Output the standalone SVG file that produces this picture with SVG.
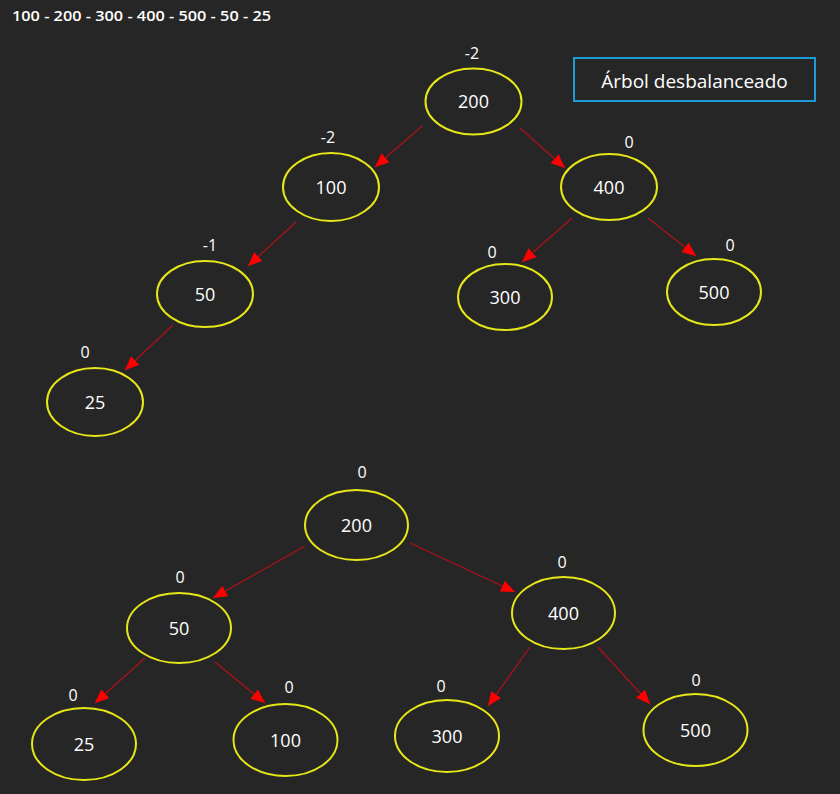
<svg xmlns="http://www.w3.org/2000/svg" width="840" height="794" viewBox="0 0 840 794">
<defs>
<marker id="ah" viewBox="0 0 14 12" refX="14" refY="6" markerWidth="14" markerHeight="12" markerUnits="userSpaceOnUse" orient="auto">
<path d="M0,0 L14,6 L0,12 Z" fill="#ff0000"/>
</marker>
</defs>
<style>
.n{fill:none;stroke:#e6e619;stroke-width:2}
.t{font-family:"Open Sans","Noto Sans",sans-serif;font-size:18px;fill:#ffffff;text-anchor:middle}
.b{font-family:"Open Sans","Noto Sans",sans-serif;font-size:16px;fill:#ffffff;text-anchor:middle}
.e{stroke:#b0101a;stroke-width:1.2;fill:none;marker-end:url(#ah)}
</style>
<rect width="840" height="794" fill="#262626"/>
<text x="12" y="21" font-family="'Open Sans','Noto Sans',sans-serif" font-size="14" font-weight="600" fill="#ffffff" textLength="259" lengthAdjust="spacingAndGlyphs">100 - 200 - 300 - 400 - 500 - 50 - 25</text>
<g id="legend">
<rect x="574" y="58" width="241" height="43" fill="none" stroke="#1e9bd7" stroke-width="2"/>
<text x="694.5" y="87.5" class="t" font-size="19" style="font-size:19px">Árbol desbalanceado</text>
</g>
<g id="connectors">
<line class="e" x1="422" y1="126" x2="375" y2="167"/>
<line class="e" x1="520" y1="128" x2="565" y2="168"/>
<line class="e" x1="296" y1="222" x2="248" y2="266"/>
<line class="e" x1="572" y1="218" x2="522" y2="262"/>
<line class="e" x1="648" y1="218" x2="696" y2="256"/>
<line class="e" x1="173" y1="325" x2="125" y2="370"/>
<line class="e" x1="305" y1="546" x2="213" y2="598"/>
<line class="e" x1="410" y1="543" x2="515" y2="592"/>
<line class="e" x1="145" y1="658" x2="95" y2="703"/>
<line class="e" x1="215" y1="662" x2="265" y2="703"/>
<line class="e" x1="530" y1="647" x2="488" y2="706"/>
<line class="e" x1="598" y1="647" x2="650" y2="704"/>
</g>
<g id="t1-200"><ellipse class="n" cx="473.5" cy="101.5" rx="48" ry="33"/><text class="t" x="473.5" y="108">200</text><text class="b" x="472" y="59">-2</text></g>
<g id="t1-100"><ellipse class="n" cx="331" cy="187" rx="48" ry="34"/><text class="t" x="331" y="193.5">100</text><text class="b" x="328" y="143">-2</text></g>
<g id="t1-400"><ellipse class="n" cx="609" cy="187" rx="48" ry="33"/><text class="t" x="609" y="193.5">400</text><text class="b" x="629" y="148">0</text></g>
<g id="t1-50"><ellipse class="n" cx="205" cy="294" rx="48" ry="33"/><text class="t" x="205" y="300.5">50</text><text class="b" x="210" y="251">-1</text></g>
<g id="t1-300"><ellipse class="n" cx="505" cy="297" rx="47" ry="33"/><text class="t" x="505" y="303.5">300</text><text class="b" x="492" y="258">0</text></g>
<g id="t1-500"><ellipse class="n" cx="714" cy="292" rx="47" ry="33"/><text class="t" x="714" y="298.5">500</text><text class="b" x="730" y="251">0</text></g>
<g id="t1-25"><ellipse class="n" cx="95" cy="402" rx="48" ry="34"/><text class="t" x="95" y="408.5">25</text><text class="b" x="85" y="358">0</text></g>
<g id="t2-200"><ellipse class="n" cx="356.5" cy="525" rx="51.5" ry="35"/><text class="t" x="356.5" y="531.5">200</text><text class="b" x="362" y="478">0</text></g>
<g id="t2-50"><ellipse class="n" cx="179" cy="628" rx="52" ry="35"/><text class="t" x="179" y="634.5">50</text><text class="b" x="180" y="583">0</text></g>
<g id="t2-400"><ellipse class="n" cx="563.5" cy="613" rx="51.5" ry="36"/><text class="t" x="563.5" y="619.5">400</text><text class="b" x="562" y="568">0</text></g>
<g id="t2-25"><ellipse class="n" cx="84" cy="744" rx="52" ry="36"/><text class="t" x="84" y="750.5">25</text><text class="b" x="73" y="701">0</text></g>
<g id="t2-100"><ellipse class="n" cx="285.5" cy="740" rx="52" ry="36"/><text class="t" x="285.5" y="746.5">100</text><text class="b" x="289" y="693">0</text></g>
<g id="t2-300"><ellipse class="n" cx="447" cy="736" rx="52" ry="36"/><text class="t" x="447" y="742.5">300</text><text class="b" x="441" y="692">0</text></g>
<g id="t2-500"><ellipse class="n" cx="695.5" cy="730" rx="52" ry="36"/><text class="t" x="695.5" y="736.5">500</text><text class="b" x="696" y="686">0</text></g>
</svg>
